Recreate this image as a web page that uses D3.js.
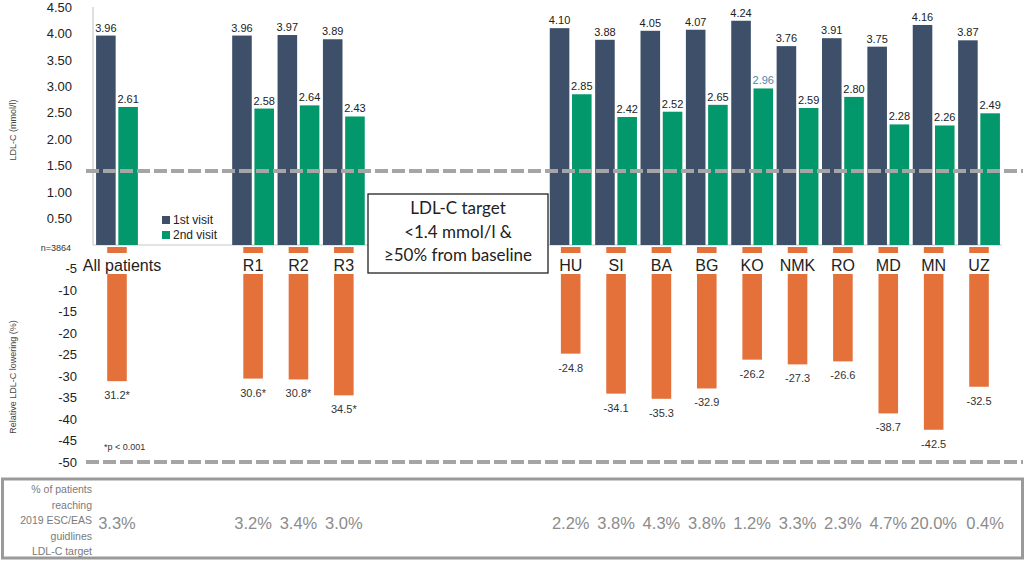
<!DOCTYPE html>
<html>
<head>
<meta charset="utf-8">
<script src="https://cdn.jsdelivr.net/npm/d3@7"></script>
<style>
  body { margin: 0; background: #fff; }
  text { font-family: "Liberation Sans", Arial, sans-serif; }
</style>
</head>
<body>
<div id="chart"></div>
<script>
var categories = ["All patients", "R1", "R2", "R3", "HU", "SI", "BA", "BG", "KO", "NMK", "RO", "MD", "MN", "UZ"];
var visit1 = [3.96, 3.96, 3.97, 3.89, 4.10, 3.88, 4.05, 4.07, 4.24, 3.76, 3.91, 3.75, 4.16, 3.87];
var visit2 = [2.61, 2.58, 2.64, 2.43, 2.85, 2.42, 2.52, 2.65, 2.96, 2.59, 2.80, 2.28, 2.26, 2.49];
var lowering = [-31.2, -30.6, -30.8, -34.5, -24.8, -34.1, -35.3, -32.9, -26.2, -27.3, -26.6, -38.7, -42.5, -32.5];
var loweringLabels = ["31.2*", "30.6*", "30.8*", "34.5*", "-24.8", "-34.1", "-35.3", "-32.9", "-26.2", "-27.3", "-26.6", "-38.7", "-42.5", "-32.5"];
var reachingTarget = [3.3, 3.2, 3.4, 3.0, 2.2, 3.8, 4.3, 3.8, 1.2, 3.3, 2.3, 4.7, 20.0, 0.4];
var topTicks = [0.5, 1, 1.5, 2, 2.5, 3, 3.5, 4, 4.5];
var bottomTicks = [-5, -10, -15, -20, -25, -30, -35, -40, -45, -50];
var targetLdl = 1.4;
var seriesNames = ["1st visit", "2nd visit"];
var targetText = ["LDL-C target", "<1.4 mmol/l &", "\u226550% from baseline"];
var tableLabel = ["% of patients", "reaching", "2019 ESC/EAS", "guidlines", "LDL-C target"];

var W = 1025, H = 563;
var navy = "#3d4f69", green = "#03976c", orange = "#e4703a", dashGrey = "#a5a5a5";
var locale = d3.formatLocale({decimal: ".", thousands: ",", grouping: [3], currency: ["", ""], minus: "-"});

// empty slots between the groups of bars
var gapsAfter = {"All patients": 2, "R3": 4};
var slots = [];
categories.forEach(function(c) {
    slots.push(c);
    for (var k = 0; k < (gapsAfter[c] || 0); k++) slots.push("_gap" + c + k);
});

var x = d3.scaleBand().domain(slots).range([94.3, 1001.7]).paddingInner(0);
var x1 = d3.scaleBand().domain([0, 1]).range([0, x.bandwidth()]).paddingInner(0.12).paddingOuter(0.08);
var yTop = d3.scaleLinear().domain([0, 4.5]).range([245, 7]);
var yBot = d3.scaleLinear().domain([0, -50]).range([247, 462]);

var svg = d3.select("#chart").append("svg")
    .attr("width", W)
    .attr("height", H);

var rows = categories.map(function(c, i) {
    return {cat: c, v1: visit1[i], v2: visit2[i], low: lowering[i], lowLabel: loweringLabels[i], reach: reachingTarget[i]};
});

// top axis line + baseline
svg.append("line")
    .attr("x1", 93).attr("x2", 93)
    .attr("y1", yTop(4.5)).attr("y2", yTop(0))
    .attr("stroke", "#bfbfbf").attr("stroke-width", 1);
svg.append("line")
    .attr("x1", 93).attr("x2", x.range()[1])
    .attr("y1", yTop(0)).attr("y2", yTop(0))
    .attr("stroke", "#c8c8c8").attr("stroke-width", 1);

// visit bars
var groups = svg.selectAll(".grp")
    .data(rows)
    .enter()
    .append("g")
    .attr("class", "grp")
    .attr("transform", function(d) { return "translate(" + x(d.cat) + ",0)"; });

groups.append("rect")
    .attr("x", x1(0))
    .attr("width", x1.bandwidth())
    .attr("y", function(d) { return yTop(d.v1); })
    .attr("height", function(d) { return yTop(0) - yTop(d.v1); })
    .attr("fill", navy);
groups.append("rect")
    .attr("x", x1(1))
    .attr("width", x1.bandwidth())
    .attr("y", function(d) { return yTop(d.v2); })
    .attr("height", function(d) { return yTop(0) - yTop(d.v2); })
    .attr("fill", green);

groups.append("text")
    .attr("x", x1(0) + x1.bandwidth() / 2)
    .attr("y", function(d) { return yTop(d.v1) - 4; })
    .attr("text-anchor", "middle")
    .style("font-size", "11px")
    .attr("fill", "#222")
    .text(function(d) { return d3.format(".2f")(d.v1); });
groups.append("text")
    .attr("x", x1(1) + x1.bandwidth() / 2)
    .attr("y", function(d) { return yTop(d.v2) - 4; })
    .attr("text-anchor", "middle")
    .style("font-size", "11px")
    .attr("fill", function(d) { return d.cat === "KO" ? "#4a87aa" : "#222"; })
    .text(function(d) { return d3.format(".2f")(d.v2); });

// lowering bars
var bw = x1.bandwidth();
groups.append("rect")
    .attr("x", x.bandwidth() / 2 - bw / 2)
    .attr("width", bw)
    .attr("y", yBot(0))
    .attr("height", function(d) { return yBot(d.low) - yBot(0); })
    .attr("fill", orange);
groups.append("rect")
    .attr("x", x.bandwidth() / 2 - bw / 2 - 1)
    .attr("width", bw + 2)
    .attr("y", 253)
    .attr("height", 21)
    .attr("fill", "#fff");
groups.append("text")
    .attr("x", function(d) { return x.bandwidth() / 2 + (d.cat === "All patients" ? 5 : 0); })
    .attr("y", 271)
    .attr("text-anchor", "middle")
    .style("font-size", "16px")
    .attr("fill", "#222")
    .text(function(d) { return d.cat; });
groups.append("text")
    .attr("x", x.bandwidth() / 2)
    .attr("y", function(d) { return yBot(d.low) + 18; })
    .attr("text-anchor", "middle")
    .style("font-size", "11px")
    .attr("fill", "#333")
    .text(function(d) { return d.lowLabel; });

// axes drawn after the bars
var topAxis = svg.append("g")
    .attr("transform", "translate(76,0)")
    .call(d3.axisLeft(yTop).tickValues(topTicks).tickFormat(d3.format(".2f")).tickSize(0).tickPadding(4));
topAxis.select(".domain").remove();
topAxis.selectAll("text")
    .style("font-size", "13px")
    .attr("fill", "#222");

var botAxis = svg.append("g")
    .attr("transform", "translate(80,0)")
    .call(d3.axisLeft(yBot).tickValues(bottomTicks).tickFormat(locale.format("d")).tickSize(0).tickPadding(3));
botAxis.select(".domain").remove();
botAxis.selectAll("text")
    .style("font-size", "13px")
    .attr("fill", "#222");

// axis titles
svg.append("text")
    .attr("transform", "translate(16,130) rotate(-90)")
    .attr("text-anchor", "middle")
    .style("font-size", "9px")
    .attr("fill", "#444")
    .text("LDL-C (mmol/l)");
svg.append("text")
    .attr("transform", "translate(16,377) rotate(-90)")
    .attr("text-anchor", "middle")
    .style("font-size", "9px")
    .attr("fill", "#444")
    .text("Relative LDL-C lowering (%)");

svg.append("text")
    .attr("x", 71).attr("y", 251)
    .attr("text-anchor", "end")
    .style("font-size", "9px")
    .attr("fill", "#333")
    .text("n=3864");

// target / floor dashed lines
svg.append("line")
    .attr("x1", 86).attr("x2", 1023)
    .attr("y1", yTop(targetLdl)).attr("y2", yTop(targetLdl))
    .attr("stroke", dashGrey).attr("stroke-width", 4)
    .attr("stroke-dasharray", "13,4");
svg.append("line")
    .attr("x1", 86).attr("x2", 1023)
    .attr("y1", yBot(-50)).attr("y2", yBot(-50))
    .attr("stroke", dashGrey).attr("stroke-width", 4)
    .attr("stroke-dasharray", "13,4");

svg.append("text")
    .attr("x", 104).attr("y", 450)
    .style("font-size", "9px")
    .attr("fill", "#333")
    .text("*p < 0.001");

// legend
var legend = svg.append("g").attr("transform", "translate(162,216)");
legend.selectAll("rect")
    .data(seriesNames)
    .enter()
    .append("rect")
    .attr("y", function(d, i) { return i * 15; })
    .attr("width", 8).attr("height", 8)
    .attr("fill", function(d, i) { return i === 0 ? navy : green; });
legend.selectAll("text")
    .data(seriesNames)
    .enter()
    .append("text")
    .attr("x", 11)
    .attr("y", function(d, i) { return i * 15 + 8; })
    .style("font-size", "12px")
    .attr("fill", "#222")
    .text(function(d) { return d; });

// target box
svg.append("rect")
    .attr("x", 368).attr("y", 194)
    .attr("width", 180).attr("height", 79)
    .attr("fill", "#fff")
    .attr("stroke", "#222").attr("stroke-width", 1.3);
svg.selectAll(".target-text")
    .data(targetText)
    .enter()
    .append("text")
    .attr("class", "target-text")
    .attr("x", 458)
    .attr("y", function(d, i) { return 214 + i * 23.5; })
    .attr("text-anchor", "middle")
    .style("font-family", "Lato, 'Liberation Sans', sans-serif")
    .style("font-size", "17px")
    .attr("fill", "#222")
    .text(function(d) { return d; });

// bottom table
svg.append("rect")
    .attr("x", 2.5).attr("y", 479)
    .attr("width", 1020).attr("height", 79)
    .attr("fill", "none")
    .attr("stroke", "#9a9a9a").attr("stroke-width", 3);
svg.selectAll(".table-label")
    .data(tableLabel)
    .enter()
    .append("text")
    .attr("class", "table-label")
    .attr("x", 92)
    .attr("y", function(d, i) { return 493 + i * 15.5; })
    .attr("text-anchor", "end")
    .style("font-size", "10.5px")
    .attr("fill", "#7a7a7a")
    .text(function(d) { return d; });
groups.append("text")
    .attr("x", function(d) { return x.bandwidth() / 2 + (d.cat === "UZ" ? 6 : 0); })
    .attr("y", 529)
    .attr("text-anchor", "middle")
    .style("font-size", "16.5px")
    .attr("fill", "#8c8c8c")
    .text(function(d) { return d3.format(".1f")(d.reach) + "%"; });
</script>
</body>
</html>
